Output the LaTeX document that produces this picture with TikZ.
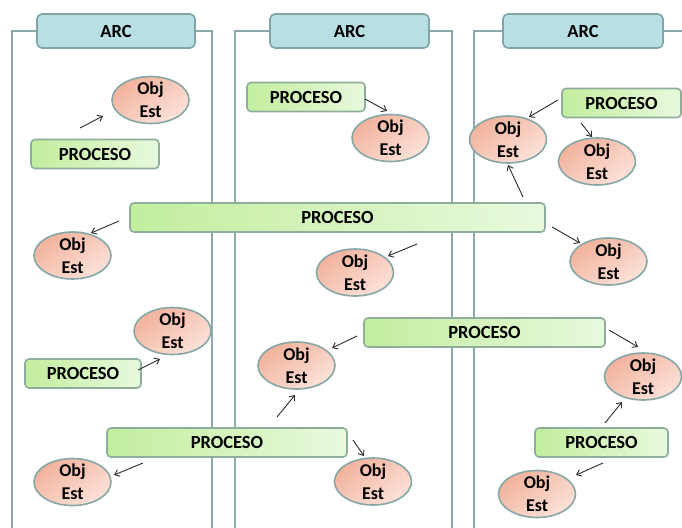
\documentclass[tikz,border=0pt]{standalone}
\usepackage{fontspec}
\setmainfont{Carlito}
\usetikzlibrary{shapes.geometric,arrows.meta}

\definecolor{lanec}{HTML}{8DA9AB}
\definecolor{arcfill}{HTML}{B8DFE3}
\definecolor{arcdraw}{HTML}{7FA5A8}
\definecolor{procA}{HTML}{C2EE9E}
\definecolor{procB}{HTML}{E8F9DD}
\definecolor{procdraw}{HTML}{8EAD9A}
\definecolor{objA}{HTML}{F1B29C}
\definecolor{objB}{HTML}{FCE2D9}
\definecolor{objdraw}{HTML}{86A7A6}
\definecolor{arrowc}{HTML}{2B2B2B}

\begin{document}
\begin{tikzpicture}[x=1pt,y=-1pt,
  lane/.style={draw=lanec,line width=1.8pt},
  arcbox/.style={draw=arcdraw,fill=arcfill,line width=1.6pt,rounded corners=5pt,
    minimum width=158pt,minimum height=34pt,inner sep=0pt,
    font=\fontsize{18.5}{22}\selectfont\bfseries},
  procbox/.style={draw=procdraw,line width=1.6pt,rounded corners=4pt,
    left color=procA,right color=procB,minimum height=29pt,inner sep=0pt,
    font=\fontsize{18.5}{22}\selectfont\bfseries},
  objnode/.style={ellipse,draw=objdraw,line width=1.6pt,
    top color=objA,bottom color=objB,shading angle=35,
    minimum width=77pt,minimum height=47pt,inner xsep=0pt,inner ysep=-6pt,
    align=center,font=\fontsize{18}{23}\selectfont\bfseries},
  arr/.style={draw=arrowc,line width=0.9pt,-{Straight Barb[length=4.5pt,width=7pt]}}
]
\useasboundingbox (0,0) rectangle (682,527);

% lane headers
\node[arcbox] (a1) at (116,31) {ARC};
\node[arcbox,minimum width=159pt] (a2) at (349.5,31) {ARC};
\node[arcbox,minimum width=160pt] (a3) at (583,31) {ARC};

% lane borders
\draw[lane] (12,532) |- (a1.west);
\draw[lane] (a1.east) -| (212,532);
\draw[lane] (235,532) |- (a2.west);
\draw[lane] (a2.east) -| (452,532);
\draw[lane] (474,532) |- (a3.west);
\draw[lane] (a3.east) -- (690,31);

% processes
\node[procbox,minimum width=128pt] (p1) at (95,154) {PROCESO};
\node[procbox,minimum width=118pt] (p2) at (306,97) {PROCESO};
\node[procbox,minimum width=119pt] (p3) at (621.5,103) {PROCESO};
\node[procbox,minimum width=415pt] (pbig) at (337.5,217.5) {PROCESO};
\node[procbox,minimum width=116pt] (p4) at (83,373.5) {PROCESO};
\node[procbox,minimum width=241pt] (pmid) at (484.5,332.5) {PROCESO};
\node[procbox,minimum width=240pt] (pbot) at (227,442.5) {PROCESO};
\node[procbox,minimum width=133pt] (p5) at (601.5,442.5) {PROCESO};

% state objects
\node[objnode] (o1) at (150.5,100) {Obj\\Est};
\node[objnode] (o2) at (390.5,138) {Obj\\Est};
\node[objnode] (o3) at (508,139.5) {Obj\\Est};
\node[objnode] (o4) at (597,161.5) {Obj\\Est};
\node[objnode] (o5) at (72.5,255.5) {Obj\\Est};
\node[objnode] (o6) at (355,272.5) {Obj\\Est};
\node[objnode] (o7) at (608.5,261.5) {Obj\\Est};
\node[objnode] (o8) at (172.5,331) {Obj\\Est};
\node[objnode] (o9) at (296.5,365.5) {Obj\\Est};
\node[objnode] (o10) at (643,376.5) {Obj\\Est};
\node[objnode] (o11) at (72.5,482) {Obj\\Est};
\node[objnode] (o12) at (373,481.5) {Obj\\Est};
\node[objnode] (o13) at (537,494) {Obj\\Est};

% short arrows from processes to objects
\draw[arr] ([shift={(-15,-26)}]p1.center) -- ([shift={(-47.5,16)}]o1.center);
\draw[arr] ([shift={(59,2)}]p2.center) -- ([shift={(-3.5,-27)}]o2.center);
\draw[arr] ([shift={(-63.5,-3)}]p3.center) -- ([shift={(21,-22.5)}]o3.center);
\draw[arr] ([shift={(-40.5,20)}]p3.center) -- ([shift={(-5,-24.5)}]o4.center);
\draw[arr] ([shift={(-218.5,3.5)}]pbig.center) -- ([shift={(18.5,-22.5)}]o5.center);
\draw[arr] ([shift={(79.5,26.5)}]pbig.center) -- ([shift={(33,-16.5)}]o6.center);
\draw[arr] ([shift={(185.5,-20.5)}]pbig.center) -- ([shift={(0,25.5)}]o3.center);
\draw[arr] ([shift={(214.5,9.5)}]pbig.center) -- ([shift={(-28.5,-18.5)}]o7.center);
\draw[arr] ([shift={(55,-3.5)}]p4.center) -- ([shift={(-12.5,28)}]o8.center);
\draw[arr] ([shift={(-127.5,3.5)}]pmid.center) -- ([shift={(35.5,-17.5)}]o9.center);
\draw[arr] ([shift={(124.5,-2.5)}]pmid.center) -- ([shift={(-5,-29.5)}]o10.center);
\draw[arr] ([shift={(50,-25.5)}]pbot.center) -- ([shift={(-1.5,29.5)}]o9.center);
\draw[arr] ([shift={(126,-2.5)}]pbot.center) -- ([shift={(-9,-25.5)}]o12.center);
\draw[arr] ([shift={(-84,20.5)}]pbot.center) -- ([shift={(41.5,-7)}]o11.center);
\draw[arr] ([shift={(3.5,-19.5)}]p5.center) -- ([shift={(-21,25.5)}]o10.center);
\draw[arr] ([shift={(1.5,20.5)}]p5.center) -- ([shift={(39,-19)}]o13.center);
\end{tikzpicture}
\end{document}
